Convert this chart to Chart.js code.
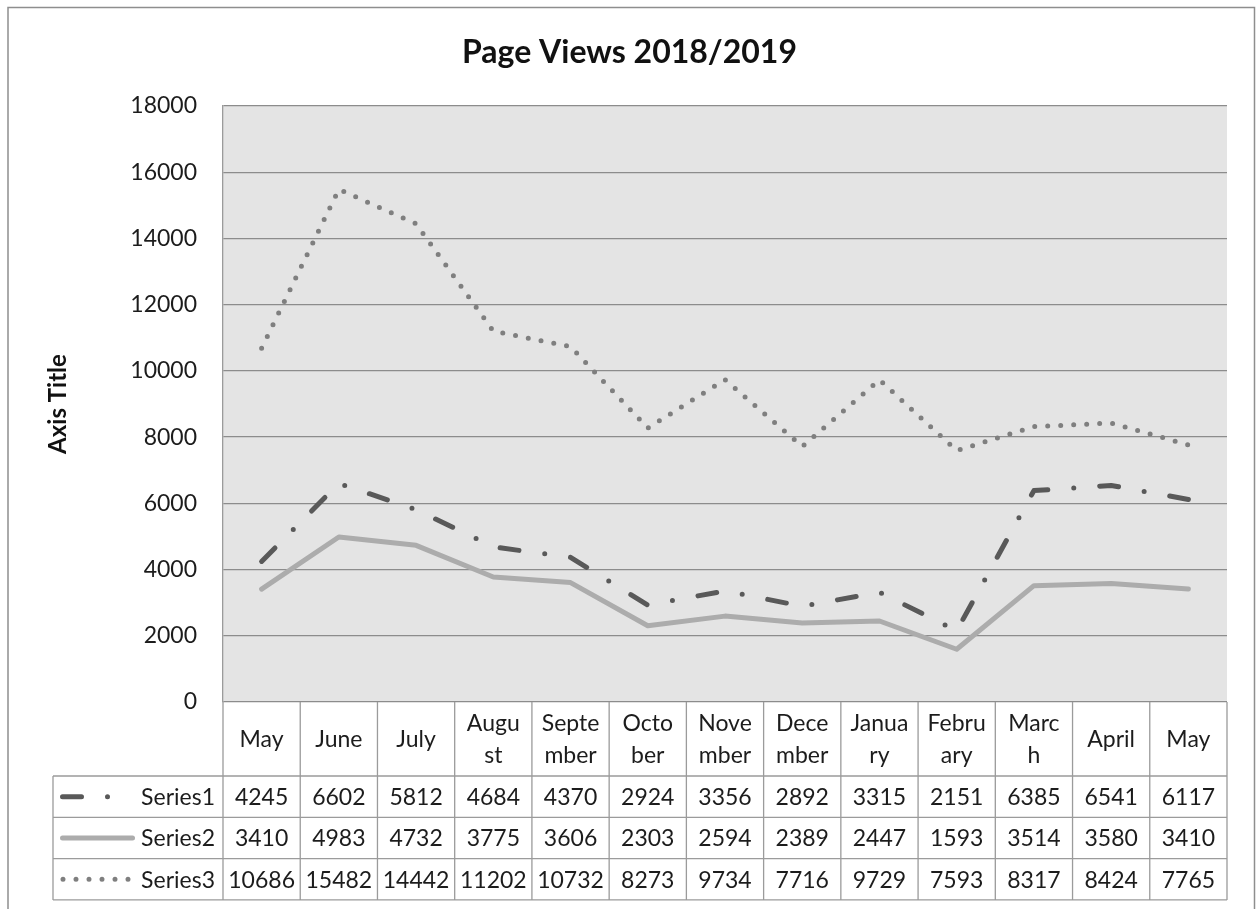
<!DOCTYPE html>
<html><head><meta charset="utf-8">
<script src="https://cdn.jsdelivr.net/npm/chart.js@4"></script>
<style>html,body{margin:0;padding:0;background:#fff;} #wrap{width:1259px;height:909px;position:relative;}</style>
</head><body><div id="wrap"><canvas id="c" width="1259" height="909"></canvas></div>
<script>
// ---- data ----
const categories = ['May','June','July','August','September','October','November','December','January','February','March','April','May'];
const tickLabels = [['May'],['June'],['July'],['Augu','st'],['Septe','mber'],['Octo','ber'],['Nove','mber'],['Dece','mber'],['Janua','ry'],['Febru','ary'],['Marc','h'],['April'],['May']];
const seriesNames = ['Series1','Series2','Series3'];
const series1 = [4245, 6602, 5812, 4684, 4370, 2924, 3356, 2892, 3315, 2151, 6385, 6541, 6117];
const series2 = [3410, 4983, 4732, 3775, 3606, 2303, 2594, 2389, 2447, 1593, 3514, 3580, 3410];
const series3 = [10686, 15482, 14442, 11202, 10732, 8273, 9734, 7716, 9729, 7593, 8317, 8424, 7765];
const yTicks = [0, 2000, 4000, 6000, 8000, 10000, 12000, 14000, 16000, 18000];
const chartTitle = 'Page Views 2018/2019';
const yAxisTitle = 'Axis Title';

// ---- styles ----
const FONT = 'Lato, "Open Sans", sans-serif';
const TEXT = '#1c1c1c';
const allSeries = [series1, series2, series3];
const styles = [
  {color:'#595959', width:5, dash:[19,26,0,26]},
  {color:'#acacac', width:5, dash:[]},
  {color:'#7f7f7f', width:5, dash:[0,13]}
];

const framePlugin = {
  id: 'frameAndTable',
  beforeDraw(chart){
    const {ctx, chartArea:a} = chart;
    ctx.save();
    ctx.fillStyle = '#fff'; ctx.fillRect(0,0,chart.width,chart.height);
    ctx.strokeStyle = '#8e8e8e'; ctx.lineWidth = 1.5;
    ctx.strokeRect(8, 7.5, 1246.5, 1000);
    ctx.fillStyle = '#e4e4e4';
    ctx.fillRect(a.left, a.top, a.right - a.left, a.bottom - a.top);
    ctx.restore();
  },
  afterDraw(chart){
    const {ctx, chartArea:a, scales:{x}} = chart;
    const n = categories.length;
    const cw = x.getPixelForValue(1) - x.getPixelForValue(0);
    const top = a.bottom, hdrBottom = top + 74, rowH = 41.3;
    const legendLeft = 53;
    ctx.save();
    ctx.strokeStyle = '#9b9b9b'; ctx.lineWidth = 1.3;
    ctx.beginPath();
    for (let i = 0; i <= n; i++) {
      const px = i < n ? x.getPixelForValue(i) - cw/2 : x.getPixelForValue(n-1) + cw/2;
      ctx.moveTo(px, top); ctx.lineTo(px, hdrBottom + 3*rowH);
    }
    ctx.moveTo(legendLeft, hdrBottom); ctx.lineTo(legendLeft, hdrBottom + 3*rowH);
    for (let r = 0; r <= 3; r++) {
      const y = hdrBottom + r*rowH;
      ctx.moveTo(legendLeft, y); ctx.lineTo(a.right, y);
    }
    ctx.stroke();

    ctx.font = '23px ' + FONT;
    ctx.fillStyle = TEXT;
    ctx.textBaseline = 'middle';
    for (let r = 0; r < 3; r++) {
      const cy = hdrBottom + r*rowH + rowH/2;
      ctx.textAlign = 'right';
      ctx.fillStyle = TEXT;
      ctx.fillText(seriesNames[r], a.left - 8, cy + 1);
      ctx.textAlign = 'center';
      allSeries[r].forEach((v, i) => ctx.fillText(String(v), x.getPixelForValue(i), cy + 1));
      // legend key
      const st = styles[r];
      ctx.save();
      ctx.strokeStyle = st.color; ctx.lineWidth = st.width; ctx.lineCap = 'round';
      ctx.setLineDash(st.dash);
      ctx.beginPath();
      if (r === 0) { ctx.moveTo(62.5, cy); ctx.lineTo(130.5, cy); }
      else if (r === 1) { ctx.moveTo(62.5, cy); ctx.lineTo(132.5, cy); }
      else { ctx.moveTo(63, cy); ctx.lineTo(129, cy); }
      ctx.stroke();
      ctx.restore();
    }
    ctx.restore();
  }
};

const datasets = allSeries.map((d, k) => ({
  label: seriesNames[k],
  data: d,
  borderColor: styles[k].color,
  borderWidth: styles[k].width,
  borderDash: styles[k].dash,
  borderCapStyle: 'round',
  borderJoinStyle: 'round',
  pointRadius: 0,
  tension: 0,
  fill: false
}));

new Chart(document.getElementById('c'), {
  type: 'line',
  data: { labels: categories, datasets },
  options: {
    responsive: false,
    animation: false,
    events: [],
    layout: { padding: { left: 32, right: 32, top: 0, bottom: 0 } },
    plugins: {
      legend: { display: false },
      tooltip: { enabled: false },
      title: {
        display: true, text: chartTitle, color: '#111',
        font: { family: FONT, size: 32, weight: 'bold', lineHeight: 1.2 },
        padding: { top: 33, bottom: 34.6 }
      }
    },
    scales: {
      x: {
        type: 'category',
        offset: true,
        grid: { display: false, drawTicks: false },
        border: { display: false },
        ticks: {
          autoSkip: false, maxRotation: 0, minRotation: 0,
          crossAlign: 'center', padding: 22,
          color: TEXT,
          font: { family: FONT, size: 23, lineHeight: 32/23 },
          callback: (v, i) => tickLabels[i]
        },
        afterFit: s => { s.height = 207; }
      },
      y: {
        min: 0, max: 18000,
        afterBuildTicks: s => { s.ticks = yTicks.map(v => ({ value: v })); },
        grid: { color: '#8c8c8c', lineWidth: 1.3, drawTicks: false },
        border: { display: true, color: '#9b9b9b', width: 1.3 },
        ticks: {
          padding: 26, color: TEXT,
          font: { family: FONT, size: 23 },
          callback: v => String(v)
        },
        title: {
          display: true, text: yAxisTitle, color: '#111',
          font: { family: FONT, size: 24, weight: 'bold', lineHeight: 1.2 },
          padding: { top: 12, bottom: 0 }
        },
        afterFit: s => { s.width = 191; }
      }
    }
  },
  plugins: [framePlugin]
});
</script>
</body></html>
